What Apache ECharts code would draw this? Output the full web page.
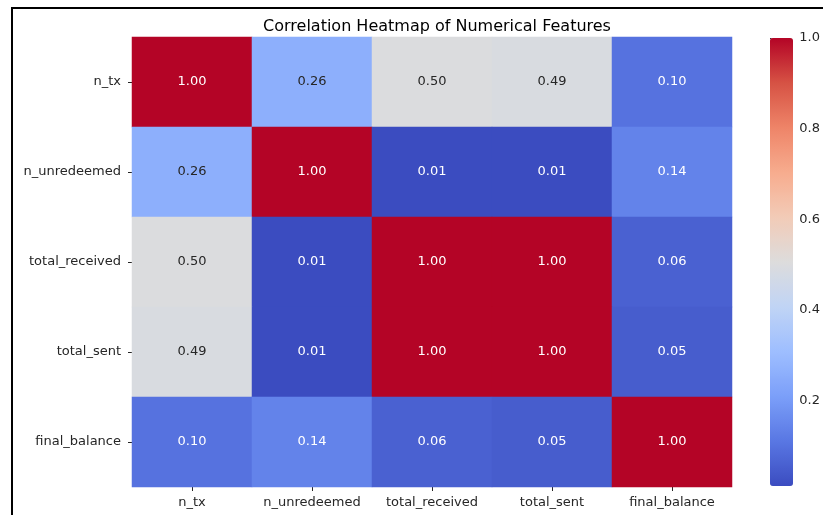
<!DOCTYPE html>
<html>
<head>
<meta charset="utf-8">
<script src="https://cdn.jsdelivr.net/npm/echarts@6/dist/echarts.min.js"></script>
<style>
  html, body { margin: 0; padding: 0; background: #fff; }
  #chart { width: 823px; height: 515px; }
</style>
</head>
<body>
<div id="chart"></div>
<script>
const features = ['n_tx', 'n_unredeemed', 'total_received', 'total_sent', 'final_balance']

// correlation matrix, row by row
const rowNTx = [1.00, 0.26, 0.50, 0.49, 0.10]
const rowUnredeemed = [0.26, 1.00, 0.012, 0.012, 0.14]
const rowReceived = [0.50, 0.012, 1.00, 1.00, 0.06]
const rowSent = [0.49, 0.012, 1.00, 1.00, 0.05]
const rowBalance = [0.10, 0.14, 0.06, 0.05, 1.00]
const matrix = [rowNTx, rowUnredeemed, rowReceived, rowSent, rowBalance]

const colorbarTicks = [0.2, 0.4, 0.6, 0.8, 1.0]
const vmin = 0.012
const vmax = 1.0

// matplotlib coolwarm, sampled
const coolwarm = ['#3b4cc0', '#5977e3', '#7b9ff9', '#9ebeff', '#c0d4f5',
  '#dddcdc', '#f2cbb7', '#f7ac8e', '#ee8468', '#d65244', '#b40426']

const font = 'DejaVu Sans'

const cells = []
matrix.forEach((row, y) => {
  row.forEach((v, x) => {
    const light = v < 0.2 || v > 0.8
    cells.push({
      value: [x, y, v],
      label: { color: light ? '#ffffff' : '#262626' },
    })
  })
})

const chart = echarts.init(document.getElementById('chart'))
chart.setOption({
  backgroundColor: '#fff',
  animation: false,
  title: {
    text: 'Correlation Heatmap of Numerical Features',
    left: 432,
    top: 14,
    textAlign: 'center',
    textStyle: { fontFamily: font, fontSize: 16, fontWeight: 'normal', color: '#000' },
  },
  graphic: [{
    type: 'rect',
    shape: { x: 12, y: 8, width: 900, height: 600 },
    style: { fill: 'none', stroke: '#000', lineWidth: 2 },
    silent: true,
  }],
  grid: [
    { left: 132, top: 37, width: 600, height: 450 },
    { left: 770, top: 38, width: 23, height: 448, show: false },
  ],
  xAxis: [
    {
      type: 'category',
      data: features,
      gridIndex: 0,
      position: 'bottom',
      axisLine: { show: false },
      axisTick: { show: true, alignWithLabel: true, length: 4, lineStyle: { color: '#262626' } },
      axisLabel: { interval: 0, fontFamily: font, fontSize: 13, color: '#262626', margin: 9 },
      splitLine: { show: false },
    },
    { type: 'value', gridIndex: 1, show: false },
  ],
  yAxis: [
    {
      type: 'category',
      data: features,
      gridIndex: 0,
      inverse: true,
      axisLine: { show: false },
      axisTick: { show: true, alignWithLabel: true, length: 4, lineStyle: { color: '#262626' } },
      axisLabel: { interval: 0, fontFamily: font, fontSize: 13, color: '#262626', margin: 11 },
      splitLine: { show: false },
    },
    {
      type: 'value',
      gridIndex: 1,
      position: 'right',
      min: vmin,
      max: vmax,
      axisLine: { show: false },
      axisTick: { show: true, length: 4, customValues: colorbarTicks, lineStyle: { color: '#262626' } },
      axisLabel: {
        fontFamily: font,
        fontSize: 13,
        color: '#262626',
        margin: 8,
        customValues: colorbarTicks,
        formatter: v => v.toFixed(1),
      },
      splitLine: { show: false },
    },
  ],
  visualMap: {
    type: 'continuous',
    min: vmin,
    max: vmax,
    seriesIndex: 0,
    left: 770,
    top: 38,
    padding: 0,
    itemWidth: 23,
    itemHeight: 448,
    calculable: false,
    hoverLink: false,
    text: null,
    showLabel: false,
    inRange: { color: coolwarm },
  },
  series: [{
    type: 'heatmap',
    xAxisIndex: 0,
    yAxisIndex: 0,
    data: cells,
    label: {
      show: true,
      fontFamily: font,
      fontSize: 13,
      formatter: p => p.value[2].toFixed(2),
    },
    itemStyle: { borderWidth: 0 },
    emphasis: { disabled: true },
  }],
})
</script>
</body>
</html>
